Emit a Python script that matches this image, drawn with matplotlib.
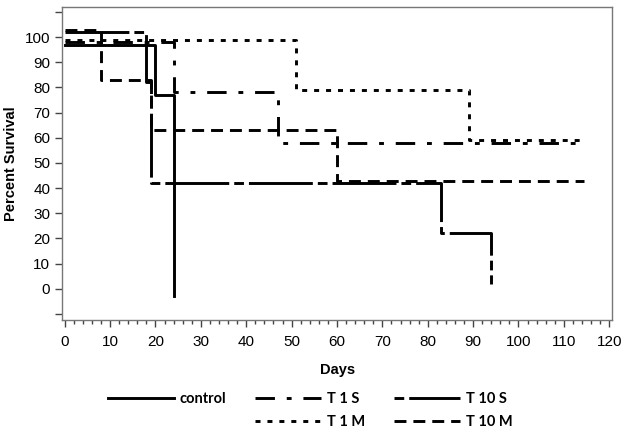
import matplotlib
matplotlib.use('Agg')
import matplotlib.pyplot as plt
from matplotlib.lines import Line2D
from matplotlib.ticker import MultipleLocator

# Step data (day of change, survival level after change)
control_days = [0, 20, 24]
control_surv = [97, 77, -3]

t1s_days = [0, 24, 47, 114.5]
t1s_surv = [98, 78, 58, 58]

t10s_days = [0, 18, 19, 83, 94]
t10s_surv = [102, 82, 42, 22, 2]

t1m_days = [0, 51, 89, 114.5]
t1m_surv = [99, 79, 59, 59]

t10m_days = [0, 8, 19, 60, 114.5]
t10m_surv = [103, 83, 63, 43, 43]

labels = ['control', 'T 1 S', 'T 10 S', 'T 1 M', 'T 10 M']

plt.rcParams['font.family'] = ['Liberation Sans', 'DejaVu Sans']
plt.rcParams['lines.scale_dashes'] = False

fig = plt.figure(figsize=(6.24, 4.33), dpi=100)
ax = fig.add_axes([0.0994, 0.261, 0.882, 0.723])

lw = 2.1
dash_1s = (14, 8.5, 3.5, 8.5)
dash_10s = (46, 3.6, 7, 3.6)
dash_1m = (3.6, 5)
dash_10m = (8.6, 5)

ax.plot(control_days, control_surv, drawstyle='steps-post', color='black', lw=lw)
ax.plot(t1s_days, t1s_surv, drawstyle='steps-post', color='black', lw=lw, dashes=dash_1s)
ax.plot(t10s_days, t10s_surv, drawstyle='steps-post', color='black', lw=lw, dashes=dash_10s)
ax.plot(t1m_days, t1m_surv, drawstyle='steps-post', color='black', lw=lw, dashes=dash_1m)
ax.plot(t10m_days, t10m_surv, drawstyle='steps-post', color='black', lw=lw, dashes=dash_10m)

ax.set_xlim(-0.6, 120.7)
ax.set_ylim(-12.4, 112)
ax.set_xticks(range(0, 121, 10))
ax.xaxis.set_minor_locator(MultipleLocator(2))
ax.set_yticks(range(-10, 111, 10))
ax.set_yticklabels(['' if (v < 0 or v > 100) else str(v) for v in range(-10, 111, 10)])

for s in ax.spines.values():
    s.set_color('#777777')
    s.set_linewidth(1.0)
ax.tick_params(axis='both', which='major', labelsize=11, color='#444444', length=5, width=1)
ax.tick_params(axis='x', which='minor', color='#444444', length=3, width=1)
ax.tick_params(axis='x', which='major', pad=6)

ax.set_xlabel('Days', fontsize=10.5, fontweight='bold', labelpad=10)
ax.set_ylabel('Percent Survival', fontsize=10.5, fontweight='bold', labelpad=5)

# legend handles (T 10 S starts on its short dash, as in the original key)
blank = Line2D([], [], color='none')
h_ctrl = Line2D([], [], color='black', lw=lw)
h_1s = Line2D([], [], color='black', lw=lw, linestyle=(0, dash_1s))
h_10s = Line2D([], [], color='black', lw=lw, linestyle=(49.6, dash_10s))
h_1m = Line2D([], [], color='black', lw=lw, linestyle=(0, dash_1m))
h_10m = Line2D([], [], color='black', lw=lw, linestyle=(0, dash_10m))
handles = [h_ctrl, blank, h_1s, h_1m, h_10s, h_10m]
leg_labels = [labels[0], '', labels[1], labels[3], labels[2], labels[4]]
fig.legend(handles, leg_labels, loc='upper center', bbox_to_anchor=(0.497, 0.124),
           ncol=3, frameon=False, handlelength=4.5, handletextpad=0.4,
           columnspacing=2.0, labelspacing=0.6,
           prop={'family': 'Lato', 'weight': 'bold', 'size': 10.5})

fig.savefig('out.png', dpi=100)
